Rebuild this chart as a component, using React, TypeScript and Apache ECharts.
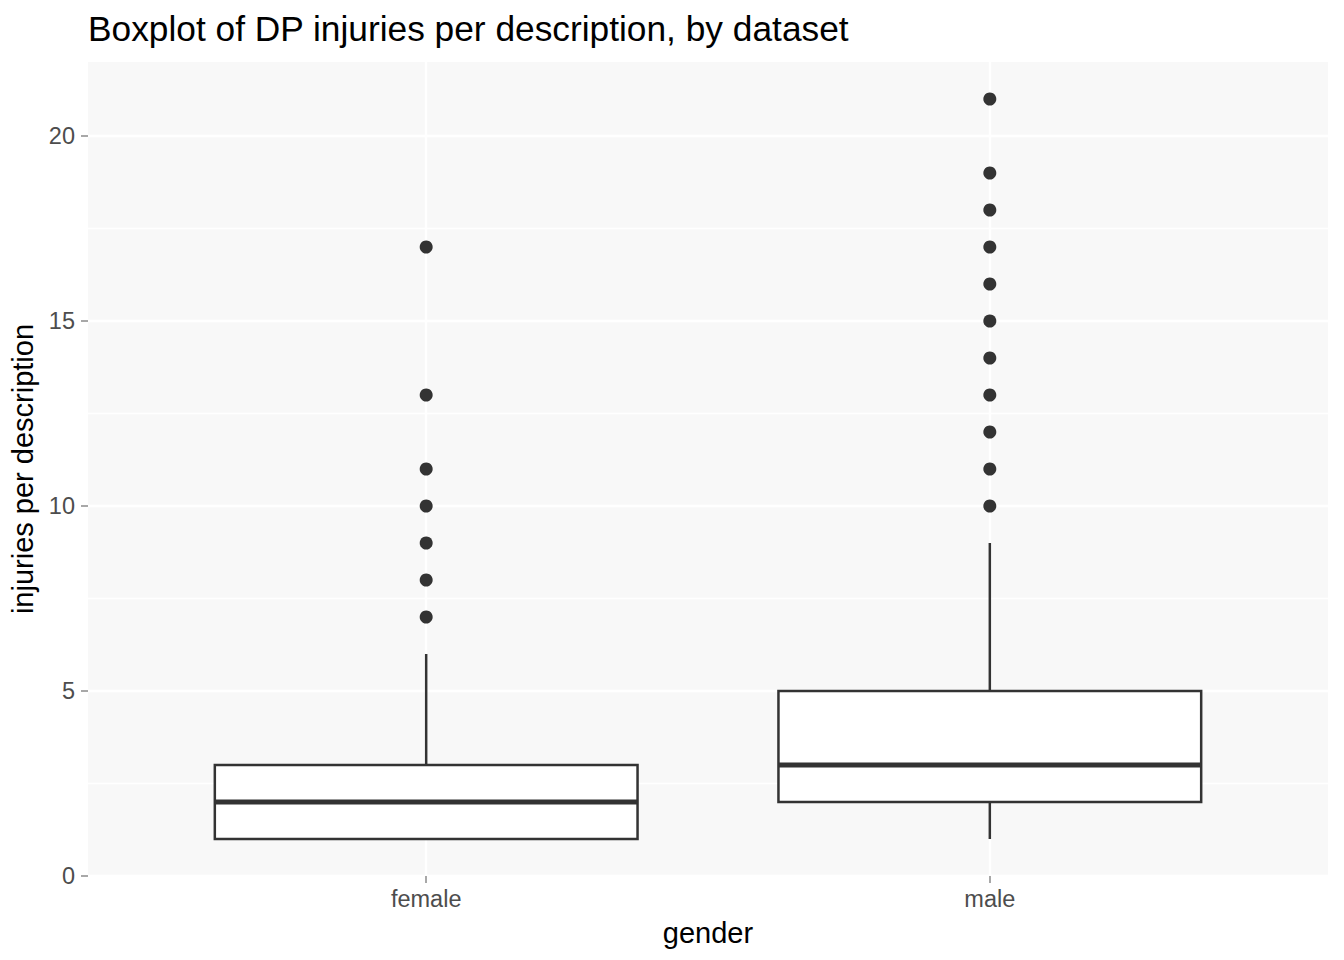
import React, { useEffect, useRef } from "react";
import * as echarts from "echarts";

const categories = ["female", "male"];
const lowerWhisker = [1, 1];
const lowerQuartile = [1, 2];
const medians = [2, 3];
const upperQuartile = [3, 5];
const upperWhisker = [6, 9];
const femaleOutliers = [7, 8, 9, 10, 11, 13, 17];
const maleOutliers = [10, 11, 12, 13, 14, 15, 16, 17, 18, 19, 21];
const yTicks = [0, 5, 10, 15, 20];
const xTicks = [1, 2];

const FONT = "'Liberation Sans', Arial, Helvetica, sans-serif";

export default function App() {
  const ref = useRef<HTMLDivElement>(null);
  useEffect(() => {
    if (!ref.current) return;
    const chart = echarts.init(ref.current, undefined, { renderer: "svg" });
    const boxData = categories.map((_, i) => [
      i + 1,
      lowerWhisker[i],
      lowerQuartile[i],
      medians[i],
      upperQuartile[i],
      upperWhisker[i],
    ]);
    const outlierData: number[][] = [];
    femaleOutliers.forEach((v) => outlierData.push([1, v]));
    maleOutliers.forEach((v) => outlierData.push([2, v]));
    const minorTicks = yTicks.slice(0, -1).map((v, i) => (v + yTicks[i + 1]) / 2);

    const halfW = 0.375;
    const stroke = "#333333";

    chart.setOption({
      animation: false,
      title: {
        text: "Boxplot of DP injuries per description, by dataset",
        left: 88,
        top: 11,
        padding: 0,
        textStyle: { fontFamily: FONT, fontSize: 35.3, fontWeight: "normal", color: "#000" },
      },
      grid: {
        left: 88,
        top: 62,
        width: 1240,
        height: 814,
        show: true,
        backgroundColor: "#F8F8F8",
        borderWidth: 0,
      },
      xAxis: {
        type: "value",
        min: 0.4,
        max: 2.6,
        name: "gender",
        nameLocation: "middle",
        nameGap: 42,
        nameTextStyle: { fontFamily: FONT, fontSize: 29, color: "#000" },
        axisLine: { show: false },
        splitLine: { show: false },
        axisTick: {
          show: true,
          customValues: xTicks,
          length: 7,
          lineStyle: { color: "#A8A8A8", width: 2 },
        },
        axisLabel: {
          customValues: xTicks,
          margin: 11,
          fontFamily: FONT,
          fontSize: 23.5,
          color: "#4D4D4D",
          formatter: (v: number) => categories[Math.round(v) - 1] ?? "",
        },
      },
      yAxis: {
        type: "value",
        min: 0,
        max: 22,
        name: "injuries per description",
        nameLocation: "middle",
        nameGap: 41,
        nameTextStyle: { fontFamily: FONT, fontSize: 29, color: "#000" },
        axisLine: { show: false },
        splitLine: { show: false },
        axisTick: {
          show: true,
          customValues: yTicks,
          length: 7,
          lineStyle: { color: "#A8A8A8", width: 2 },
        },
        axisLabel: {
          customValues: yTicks,
          margin: 13,
          fontFamily: FONT,
          fontSize: 23.5,
          color: "#4D4D4D",
        },
      },
      series: [
        {
          type: "scatter",
          data: [],
          z: 0,
          silent: true,
          markLine: {
            silent: true,
            z: 0,
            symbol: ["none", "none"],
            label: { show: false },
            animation: false,
            data: [
              ...minorTicks.map((v) => ({
                yAxis: v,
                lineStyle: { color: "#FFFFFF", width: 1.3, type: "solid" },
              })),
              ...yTicks.map((v) => ({
                yAxis: v,
                lineStyle: { color: "#FFFFFF", width: 2.4, type: "solid" },
              })),
              ...xTicks.map((v) => ({
                xAxis: v,
                lineStyle: { color: "#FFFFFF", width: 2.4, type: "solid" },
              })),
            ],
          },
        },
        {
          type: "custom",
          z: 3,
          data: boxData,
          encode: { x: 0, y: [1, 2, 3, 4, 5] },
          renderItem: (params: any, api: any) => {
            const x = api.value(0);
            const lo = api.value(1);
            const q1 = api.value(2);
            const med = api.value(3);
            const q3 = api.value(4);
            const hi = api.value(5);
            const children: any[] = [];
            if (hi > q3) {
              const a = api.coord([x, q3]);
              const b = api.coord([x, hi]);
              children.push({
                type: "line",
                shape: { x1: a[0], y1: a[1], x2: b[0], y2: b[1] },
                style: { stroke, lineWidth: 2.5 },
              });
            }
            if (lo < q1) {
              const a = api.coord([x, q1]);
              const b = api.coord([x, lo]);
              children.push({
                type: "line",
                shape: { x1: a[0], y1: a[1], x2: b[0], y2: b[1] },
                style: { stroke, lineWidth: 2.5 },
              });
            }
            const tl = api.coord([x - halfW, q3]);
            const br = api.coord([x + halfW, q1]);
            children.push({
              type: "rect",
              shape: { x: tl[0], y: tl[1], width: br[0] - tl[0], height: br[1] - tl[1] },
              style: { fill: "#FFFFFF", stroke, lineWidth: 2.5 },
            });
            const ml = api.coord([x - halfW, med]);
            const mr = api.coord([x + halfW, med]);
            children.push({
              type: "line",
              shape: { x1: ml[0], y1: ml[1], x2: mr[0], y2: mr[1] },
              style: { stroke, lineWidth: 5 },
            });
            return { type: "group", children };
          },
        },
        {
          type: "scatter",
          z: 4,
          data: outlierData,
          symbol: "circle",
          symbolSize: 13,
          itemStyle: { color: "#333333", opacity: 1 },
        },
      ],
    });
    return () => chart.dispose();
  }, []);
  return (
    <div
      ref={ref}
      style={{ position: "fixed", left: 0, top: 0, width: 1344, height: 960, background: "#FFFFFF" }}
    />
  );
}
